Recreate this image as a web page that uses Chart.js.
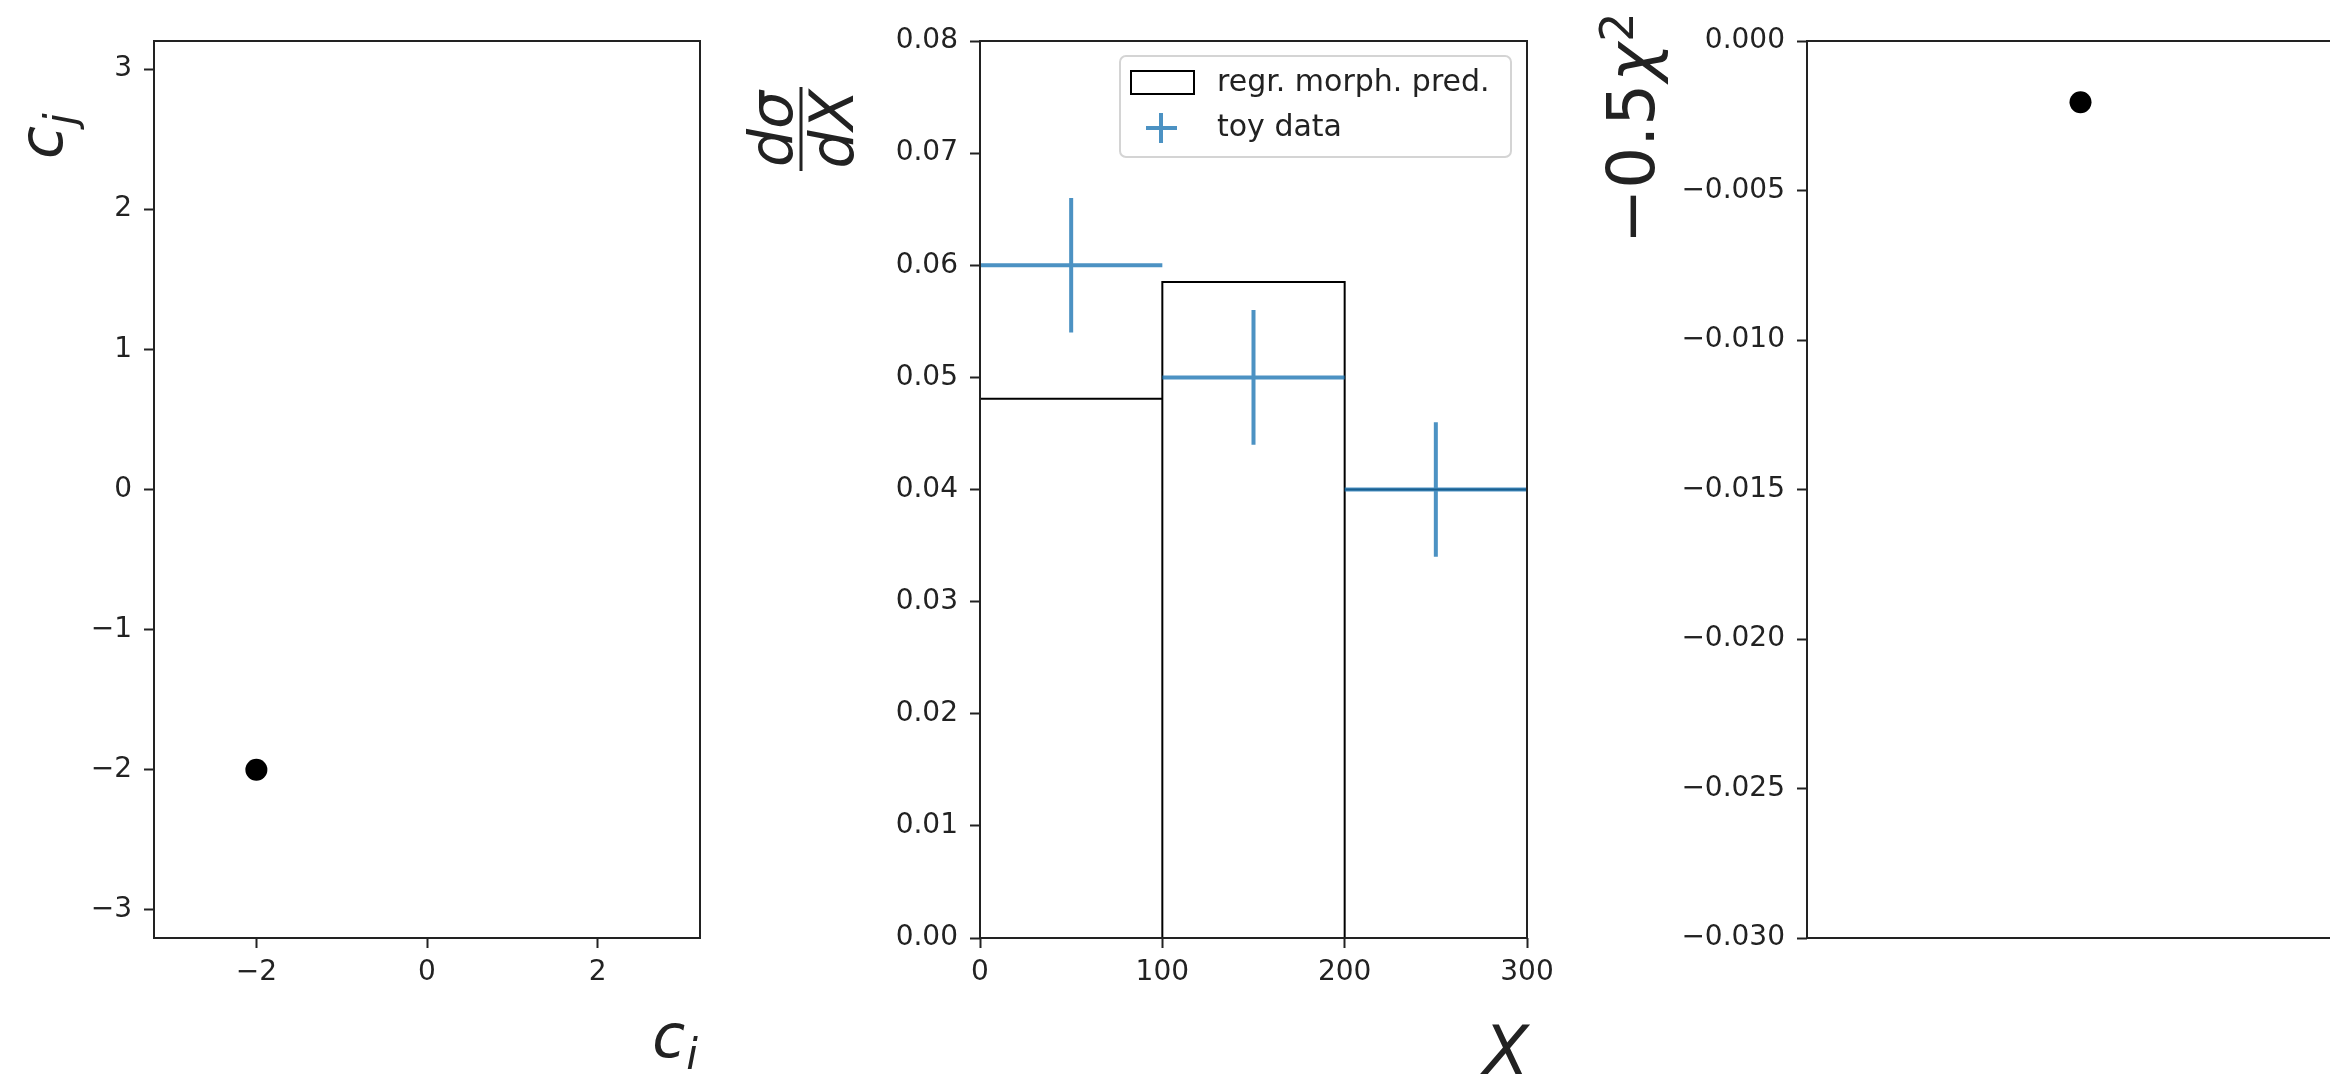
<!DOCTYPE html>
<html>
<head>
<meta charset="utf-8">
<script src="https://cdn.jsdelivr.net/npm/chart.js@4.4.0/dist/chart.umd.min.js"></script>
<style>
  html, body { margin: 0; padding: 0; background: #fff; overflow: hidden; width: 2330px; height: 1079px; }
  canvas { position: absolute; top: 0; }
</style>
</head>
<body>
<canvas id="left"></canvas>
<canvas id="mid"></canvas>
<canvas id="right"></canvas>
<script>
// left panel: fitted point in the (c_i, c_j) plane
var fitPoint = [{x: -2, y: -2}];
var leftXTicks = [-2, 0, 2];
var leftXLabels = ['−2', '0', '2'];
var leftYTicks = [-3, -2, -1, 0, 1, 2, 3];
var leftYLabels = ['−3', '−2', '−1', '0', '1', '2', '3'];

// middle panel: regression morphing prediction vs toy data
var binEdges = [0, 100, 200, 300];
var predHeights = [0.0481, 0.0585, 0.0400];
var toyValues = [0.060, 0.050, 0.040];
var toyErrors = [0.006, 0.006, 0.006];
var midXTicks = [0, 100, 200, 300];
var midXLabels = ['0', '100', '200', '300'];
var midYTicks = [0, 0.01, 0.02, 0.03, 0.04, 0.05, 0.06, 0.07, 0.08];
var midYLabels = ['0.00', '0.01', '0.02', '0.03', '0.04', '0.05', '0.06', '0.07', '0.08'];

// right panel: -0.5 chi^2
var chiPoint = [{x: 0, y: -0.00205}];
var rightYTicks = [0, -0.005, -0.010, -0.015, -0.020, -0.025, -0.030];
var rightYLabels = ['0.000', '−0.005', '−0.010', '−0.015', '−0.020', '−0.025', '−0.030'];

var INK = '#222';
var BLUE = 'rgba(31,119,180,0.8)';
var FONT = 'DejaVu Sans';
var TOP = 41, BOTTOM = 938, H = 1079, PADR = 40;

function axis(min, max, ticks, labels, isX, size, show) {
  return {
    type: 'linear', min: min, max: max,
    afterBuildTicks: function (s) { s.ticks = ticks.map(function (v) { return {value: v}; }); },
    afterFit: function (s) {
      if (isX) s.height = size; else s.width = size;
      s.paddingLeft = s.paddingRight = s.paddingTop = s.paddingBottom = 0;
    },
    ticks: {
      display: show, autoSkip: false, maxRotation: 0, minRotation: 0, padding: isX ? 8 : 12,
      color: INK, font: {family: FONT, size: 28},
      callback: function (v) { var i = ticks.indexOf(v); return i < 0 ? '' : labels[i]; }
    },
    grid: { display: show, drawOnChartArea: false, drawTicks: true, tickLength: 10, tickWidth: 2, color: INK },
    border: { display: false }
  };
}

var frame = {
  id: 'frame',
  afterDatasetsDraw: function (chart) {
    var a = chart.chartArea, ctx = chart.ctx;
    ctx.save();
    ctx.strokeStyle = INK;
    ctx.lineWidth = 2;
    ctx.strokeRect(a.left, a.top, a.right - a.left, a.bottom - a.top);
    ctx.restore();
  }
};

function it(sz) { return 'italic ' + sz + 'px "' + FONT + '"'; }
function up(sz) { return sz + 'px "' + FONT + '"'; }

// draws a run of [text, font, dy, extraGap] pieces from the current origin
function run(ctx, parts, x) {
  parts.forEach(function (p) {
    ctx.font = p[1];
    ctx.fillText(p[0], x, p[2]);
    x += ctx.measureText(p[0]).width + (p[3] || 0);
  });
  return x;
}
function runWidth(ctx, parts) {
  var w = 0;
  parts.forEach(function (p) { ctx.font = p[1]; w += ctx.measureText(p[0]).width + (p[3] || 0); });
  return w;
}

function makeChart(id, yw, areaLeft, areaW, datasets, xAxis, yAxis, extra) {
  var cv = document.getElementById(id);
  cv.width = yw + areaW + PADR;
  cv.height = H;
  cv.style.left = (areaLeft - yw) + 'px';
  return new Chart(cv, {
    type: 'scatter',
    data: { datasets: datasets },
    options: {
      responsive: false, animation: false, events: [],
      layout: { padding: { left: 0, top: TOP, right: PADR, bottom: 0 } },
      plugins: { legend: { display: false }, tooltip: { enabled: false } },
      scales: { x: xAxis, y: yAxis }
    },
    plugins: [frame, { id: 'labels', afterDraw: extra }]
  });
}

// ---------- left panel ----------
makeChart('left', 150, 154, 546,
  [{ data: fitPoint, pointRadius: 11, pointBackgroundColor: '#000', pointBorderWidth: 0 }],
  axis(-3.2, 3.2, leftXTicks, leftXLabels, true, H - BOTTOM, true),
  axis(-3.2, 3.2, leftYTicks, leftYLabels, false, 150, true),
  function (chart) {
    var ctx = chart.ctx, a = chart.chartArea;
    ctx.save();
    ctx.fillStyle = INK;
    ctx.textBaseline = 'alphabetic';
    // c_j, rotated
    ctx.translate(a.left - 92, a.top + 118);
    ctx.rotate(-Math.PI / 2);
    run(ctx, [['c', it(60), 0, 1], ['j', it(42), 13]], 0);
    ctx.restore();
    // c_i
    ctx.save();
    ctx.fillStyle = INK;
    var p = [['c', it(60), 0, 1], ['i', it(42), 12]];
    var w = runWidth(ctx, p);
    ctx.translate(0, 1057);
    run(ctx, p, a.right - w - 2);
    ctx.restore();
  });

// ---------- middle panel ----------
var histPts = [];
var toyPts = [];
for (var i = 0; i < predHeights.length; i++) {
  var lo = binEdges[i], hi = binEdges[i + 1], h = predHeights[i];
  histPts.push({x: lo, y: 0}, {x: lo, y: h}, {x: hi, y: h}, {x: hi, y: 0}, {x: lo, y: 0}, {x: lo, y: null});
  var c = (lo + hi) / 2, v = toyValues[i], e = toyErrors[i];
  toyPts.push({x: lo, y: v}, {x: hi, y: v}, {x: c, y: null},
              {x: c, y: v - e}, {x: c, y: v + e}, {x: c, y: null});
}

makeChart('mid', 250, 980, 547,
  [
    { label: 'toy data', data: toyPts, showLine: true, spanGaps: false, borderColor: BLUE, borderWidth: 4,
      pointRadius: 0, tension: 0, order: 0 },
    { label: 'regr. morph. pred.', data: histPts, showLine: true, spanGaps: false, borderColor: '#000', borderWidth: 2,
      pointRadius: 0, tension: 0, order: 1 }
  ],
  axis(0, 300, midXTicks, midXLabels, true, H - BOTTOM, true),
  axis(0, 0.08, midYTicks, midYLabels, false, 250, true),
  function (chart) {
    var ctx = chart.ctx, a = chart.chartArea;
    // legend
    var bx = a.right - 407, by = a.top + 15, bw = 391, bh = 101;
    ctx.save();
    ctx.beginPath();
    ctx.roundRect(bx, by, bw, bh, 6);
    ctx.fillStyle = 'rgba(255,255,255,0.8)';
    ctx.fill();
    ctx.strokeStyle = '#d4d4d4';
    ctx.lineWidth = 2;
    ctx.stroke();
    ctx.strokeStyle = '#000';
    ctx.lineWidth = 2;
    ctx.strokeRect(bx + 11, by + 15, 63, 23);
    ctx.strokeStyle = BLUE;
    ctx.lineWidth = 4;
    ctx.beginPath();
    ctx.moveTo(bx + 26, by + 72); ctx.lineTo(bx + 57, by + 72);
    ctx.moveTo(bx + 41, by + 57); ctx.lineTo(bx + 41, by + 87);
    ctx.stroke();
    ctx.fillStyle = INK;
    ctx.font = up(30);
    ctx.textBaseline = 'middle';
    ctx.fillText('regr. morph. pred.', bx + 97, by + 27);
    ctx.fillText('toy data', bx + 97, by + 72);
    ctx.restore();

    // d sigma / dX, rotated
    ctx.save();
    ctx.fillStyle = INK;
    ctx.translate(a.left - 179, a.top + 88);
    ctx.rotate(-Math.PI / 2);
    var num = [['d', it(60), -9], ['σ', it(60), -9]];
    var den = [['d', it(60), 52], ['X', it(60), 52]];
    run(ctx, num, -runWidth(ctx, num) / 2);
    run(ctx, den, -runWidth(ctx, den) / 2);
    ctx.fillRect(-42, -1.5, 84, 3);
    ctx.restore();

    // X
    ctx.save();
    ctx.fillStyle = INK;
    ctx.font = it(67);
    ctx.textAlign = 'right';
    ctx.fillText('X', a.right + 2, 1074);
    ctx.restore();
  });

// ---------- right panel ----------
makeChart('right', 250, 1807, 547,
  [{ data: chiPoint, pointRadius: 11, pointBackgroundColor: '#000', pointBorderWidth: 0 }],
  axis(-1, 1, [], [], true, H - BOTTOM, false),
  axis(-0.03, 0, rightYTicks, rightYLabels, false, 250, true),
  function (chart) {
    var ctx = chart.ctx, a = chart.chartArea;
    ctx.save();
    ctx.fillStyle = INK;
    ctx.translate(a.left - 153, a.top + 203);
    ctx.rotate(-Math.PI / 2);
    run(ctx, [['−0.5', up(66), 0, 2], ['χ', it(66), 0, 1], ['2', up(46), -21]], 0);
    ctx.restore();
  });
</script>
</body>
</html>
